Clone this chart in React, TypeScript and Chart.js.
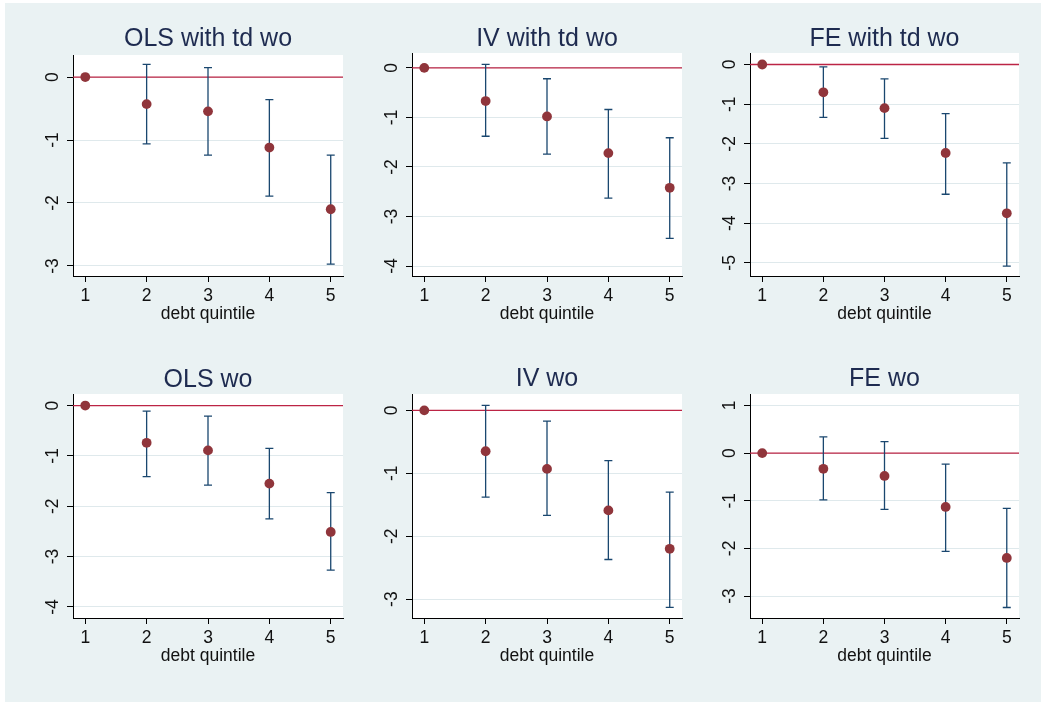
import React, { useEffect, useRef } from "react";
import { Chart, registerables } from "chart.js";

Chart.register(...registerables);

// ---------- data ----------
const QUINTILES = [1, 2, 3, 4, 5];
const X_TICKS = [1, 2, 3, 4, 5];
const X_MIN = 0.8;
const X_MAX = 5.2;
const X_TITLE = "debt quintile";

const TITLES = ["OLS with td wo", "IV with td wo", "FE with td wo", "OLS wo", "IV wo", "FE wo"];

const EST_OLS_TD = [0, -0.43, -0.545, -1.12, -2.1];
const LO_OLS_TD = [0, -1.06, -1.24, -1.89, -2.97];
const HI_OLS_TD = [0, 0.2, 0.15, -0.36, -1.24];
const Y_TICKS_OLS_TD = [0, -1, -2, -3];
const Y_RANGE_OLS_TD = [-3.16, 0.35];

const EST_IV_TD = [0, -0.67, -0.98, -1.72, -2.42];
const LO_IV_TD = [0, -1.38, -1.74, -2.63, -3.44];
const HI_IV_TD = [0, 0.07, -0.22, -0.84, -1.41];
const Y_TICKS_IV_TD = [0, -1, -2, -3, -4];
const Y_RANGE_IV_TD = [-4.2, 0.3];

const EST_FE_TD = [0, -0.7, -1.1, -2.23, -3.75];
const LO_FE_TD = [0, -1.33, -1.86, -3.27, -5.08];
const HI_FE_TD = [0, -0.06, -0.36, -1.24, -2.48];
const Y_TICKS_FE_TD = [0, -1, -2, -3, -4, -5];
const Y_RANGE_FE_TD = [-5.33, 0.29];

const EST_OLS = [0, -0.74, -0.89, -1.55, -2.51];
const LO_OLS = [0, -1.41, -1.58, -2.25, -3.27];
const HI_OLS = [0, -0.11, -0.21, -0.85, -1.73];
const Y_TICKS_OLS = [0, -1, -2, -3, -4];
const Y_RANGE_OLS = [-4.22, 0.23];

const EST_IV = [0, -0.65, -0.93, -1.59, -2.2];
const LO_IV = [0, -1.38, -1.67, -2.37, -3.13];
const HI_IV = [0, 0.08, -0.17, -0.8, -1.3];
const Y_TICKS_IV = [0, -1, -2, -3];
const Y_RANGE_IV = [-3.3, 0.26];

const EST_FE = [0, -0.33, -0.48, -1.13, -2.2];
const LO_FE = [0, -0.98, -1.18, -2.06, -3.24];
const HI_FE = [0, 0.34, 0.24, -0.23, -1.16];
const Y_TICKS_FE = [1, 0, -1, -2, -3];
const Y_RANGE_FE = [-3.46, 1.24];

const REF_VALUE = 0;

const SPECS = [
  { title: TITLES[0], est: EST_OLS_TD, lo: LO_OLS_TD, hi: HI_OLS_TD, yTicks: Y_TICKS_OLS_TD, yRange: Y_RANGE_OLS_TD },
  { title: TITLES[1], est: EST_IV_TD, lo: LO_IV_TD, hi: HI_IV_TD, yTicks: Y_TICKS_IV_TD, yRange: Y_RANGE_IV_TD },
  { title: TITLES[2], est: EST_FE_TD, lo: LO_FE_TD, hi: HI_FE_TD, yTicks: Y_TICKS_FE_TD, yRange: Y_RANGE_FE_TD },
  { title: TITLES[3], est: EST_OLS, lo: LO_OLS, hi: HI_OLS, yTicks: Y_TICKS_OLS, yRange: Y_RANGE_OLS },
  { title: TITLES[4], est: EST_IV, lo: LO_IV, hi: HI_IV, yTicks: Y_TICKS_IV, yRange: Y_RANGE_IV },
  { title: TITLES[5], est: EST_FE, lo: LO_FE, hi: HI_FE, yTicks: Y_TICKS_FE, yRange: Y_RANGE_FE },
];

// ---------- layout & style ----------
// rect: canvas [x, y, w, h]; area: plot region [left, top, right, bottom]; titleY: title baseline (page coords)
const BOXES = [
  { rect: [5, 3, 345, 342], area: [73, 55, 343, 276], titleY: 45.7 },
  { rect: [350, 3, 340, 342], area: [412, 53, 682, 276], titleY: 45.7 },
  { rect: [690, 3, 351, 342], area: [750, 53, 1019, 276], titleY: 45.5 },
  { rect: [5, 345, 345, 357], area: [73, 394, 343, 618], titleY: 386.6 },
  { rect: [350, 345, 340, 357], area: [412, 394, 682, 618], titleY: 386.2 },
  { rect: [690, 345, 351, 357], area: [750, 394, 1019, 618], titleY: 386.2 },
];

const FONT = "'Liberation Sans', Arial, Helvetica, sans-serif";
const BG = "#EAF2F3";
const TITLE_COLOR = "#1E2B50";
const TEXT_COLOR = "#111111";
const MARKER_COLOR = "#90353B";
const BAR_COLOR = "#1A476F";
const REF_COLOR = "#BC2445";
const GRID_COLOR = "#DFE9EC";
const Y_W = 40;
const X_H = 48.5;

type Spec = (typeof SPECS)[number];
type Box = (typeof BOXES)[number];

function Panel({ spec, box }: { spec: Spec; box: Box }) {
  const ref = useRef<HTMLCanvasElement>(null);
  const [rx, ry, rw, rh] = box.rect;
  useEffect(() => {
    const canvas = ref.current;
    if (!canvas) return;
    const [al, at, ar, ab] = box.area;

    const decor = {
      id: "panelDecor",
      beforeDraw(chart: any) {
        const { ctx, chartArea: ca } = chart;
        ctx.save();
        ctx.fillStyle = "#ffffff";
        ctx.fillRect(ca.left, ca.top, ca.right - ca.left, ca.bottom - ca.top);
        ctx.restore();
      },
      beforeDatasetsDraw(chart: any) {
        const { ctx, chartArea: ca } = chart;
        const xs = chart.scales.x;
        const ys = chart.scales.y;
        ctx.save();
        const yr = ys.getPixelForValue(REF_VALUE);
        ctx.strokeStyle = REF_COLOR;
        ctx.lineWidth = 1.3;
        ctx.beginPath();
        ctx.moveTo(ca.left, yr);
        ctx.lineTo(ca.right, yr);
        ctx.stroke();
        ctx.strokeStyle = BAR_COLOR;
        ctx.lineWidth = 1.3;
        QUINTILES.forEach((q, i) => {
          const x = xs.getPixelForValue(q);
          const y1 = ys.getPixelForValue(spec.hi[i]);
          const y2 = ys.getPixelForValue(spec.lo[i]);
          ctx.beginPath();
          ctx.moveTo(x, y1);
          ctx.lineTo(x, y2);
          ctx.moveTo(x - 4, y1);
          ctx.lineTo(x + 4, y1);
          ctx.moveTo(x - 4, y2);
          ctx.lineTo(x + 4, y2);
          ctx.stroke();
        });
        ctx.restore();
      },
      afterDraw(chart: any) {
        const { ctx, chartArea: ca } = chart;
        const ys = chart.scales.y;
        ctx.save();
        ctx.fillStyle = TITLE_COLOR;
        ctx.font = `25px ${FONT}`;
        ctx.textAlign = "center";
        ctx.textBaseline = "alphabetic";
        ctx.fillText(spec.title, (ca.left + ca.right) / 2, box.titleY - ry);
        ctx.fillStyle = TEXT_COLOR;
        ctx.font = `17.5px ${FONT}`;
        ctx.textAlign = "center";
        ctx.textBaseline = "middle";
        spec.yTicks.forEach((v) => {
          const y = ys.getPixelForValue(v);
          ctx.save();
          ctx.translate(ca.left - 20, y);
          ctx.rotate(-Math.PI / 2);
          ctx.fillText(String(v), 0, 0);
          ctx.restore();
        });
        ctx.restore();
      },
    };

    const chart = new Chart(canvas, {
      type: "scatter",
      data: {
        datasets: [
          {
            data: spec.est.map((v, i) => ({ x: QUINTILES[i], y: v })),
            pointRadius: 4.9,
            pointHoverRadius: 4.9,
            pointBackgroundColor: MARKER_COLOR,
            pointBorderWidth: 0,
            showLine: false,
          },
        ],
      },
      options: {
        animation: false,
        responsive: false,
        devicePixelRatio: 1,
        events: [],
        layout: {
          padding: {
            left: al - rx - Y_W,
            top: at - ry,
            right: rx + rw - ar,
            bottom: ry + rh - ab - X_H,
          },
        },
        plugins: {
          legend: { display: false },
          tooltip: { enabled: false },
          title: { display: false },
        },
        scales: {
          x: {
            type: "linear",
            min: X_MIN,
            max: X_MAX,
            afterBuildTicks: (s: any) => {
              s.ticks = X_TICKS.map((v) => ({ value: v }));
            },
            afterFit: (s: any) => {
              s.height = X_H;
            },
            grid: {
              drawOnChartArea: false,
              drawTicks: true,
              tickLength: 6,
              tickColor: "#000",
              tickWidth: 1,
            },
            border: { display: true, color: "#000", width: 1 },
            ticks: {
              font: { family: FONT, size: 17.5 },
              color: TEXT_COLOR,
              padding: 4,
              maxRotation: 0,
              autoSkip: false,
              callback: (v: any) => String(v),
            },
            title: {
              display: true,
              text: X_TITLE,
              font: { family: FONT, size: 17.5 },
              color: TEXT_COLOR,
              padding: { top: 0, bottom: 0 },
            },
          },
          y: {
            type: "linear",
            min: spec.yRange[0],
            max: spec.yRange[1],
            afterBuildTicks: (s: any) => {
              s.ticks = [...spec.yTicks].sort((a, b) => a - b).map((v) => ({ value: v }));
            },
            afterFit: (s: any) => {
              s.width = Y_W;
            },
            grid: {
              drawOnChartArea: true,
              color: GRID_COLOR,
              lineWidth: 1,
              drawTicks: true,
              tickLength: 6,
              tickColor: "#000",
              tickWidth: 1,
            },
            border: { display: true, color: "#000", width: 1 },
            ticks: { display: false },
          },
        },
      },
      plugins: [decor],
    } as any);
    return () => chart.destroy();
  }, [spec, box]);

  return (
    <canvas
      ref={ref}
      width={rw}
      height={rh}
      style={{ position: "absolute", left: rx, top: ry, width: rw, height: rh }}
    />
  );
}

export default function App() {
  return (
    <div
      style={{
        position: "fixed",
        left: 0,
        top: 0,
        width: 1041,
        height: 702,
        background: "#ffffff",
        overflow: "hidden",
      }}
    >
      <div style={{ position: "absolute", left: 5, top: 3, width: 1036, height: 699, background: BG }} />
      {SPECS.map((s, i) => (
        <Panel key={i} spec={s} box={BOXES[i]} />
      ))}
    </div>
  );
}
